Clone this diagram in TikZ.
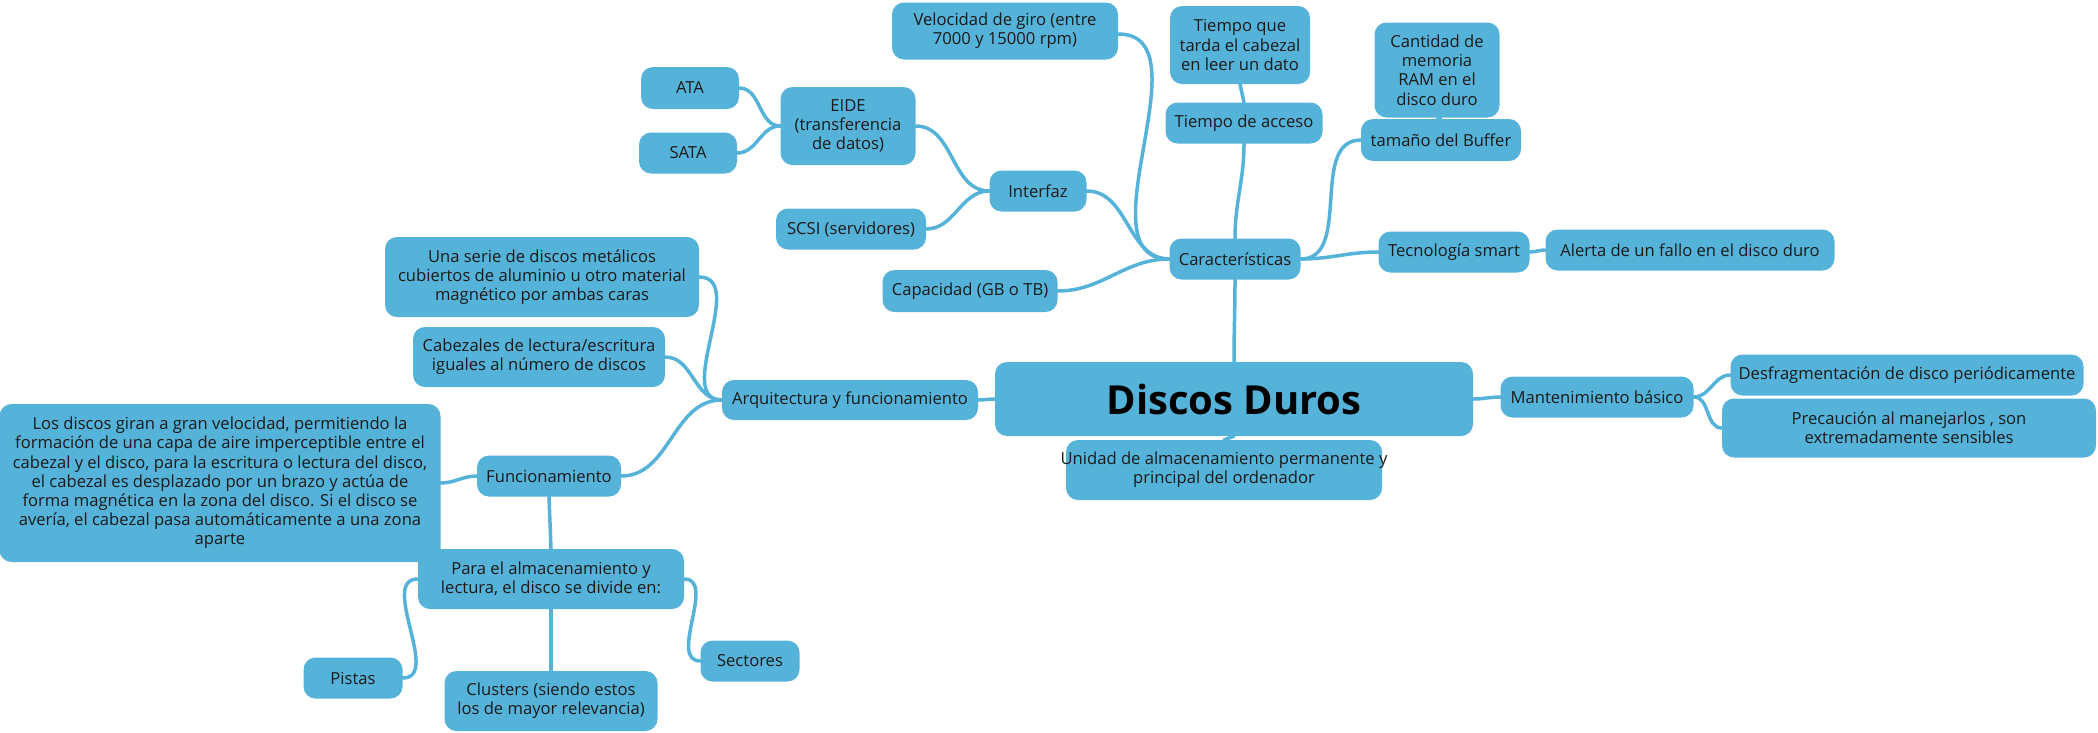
\documentclass[tikz,border=0pt]{standalone}
\usepackage{fontspec}
\setmainfont{Open Sans}
\definecolor{cblue}{HTML}{55B2D9}
\definecolor{txt}{HTML}{1A1A1A}
\pgfdeclarelayer{bg}
\pgfsetlayers{bg,main}
\tikzset{
  box/.style={rounded corners=12pt, fill=cblue, text=txt, align=center, inner sep=0pt,
    font=\fontsize{16.6}{19.2}\selectfont, anchor=center},
  label/.style={text=txt, align=center, inner sep=0pt, font=\fontsize{16.6}{19.2}\selectfont, anchor=center},
  link/.style={draw=cblue, line width=3.5pt, line cap=round}
}
\newcommand{\bx}[5]{\node[box, minimum width=#3, minimum height=#4] (#1) at #2 {#5};}
\begin{document}
\begin{tikzpicture}[x=1pt,y=-1pt]
\useasboundingbox (0,0) rectangle (2098,732);
% nodes
\bx{dd}{(1234,399)}{478pt}{74pt}{\fontsize{40}{44}\selectfont\bfseries\color{black}Discos Duros}
\bx{uni}{(1224,470)}{316pt}{60pt}{}
\node[label] (unitxt) at (uni.center) {Unidad de almacenamiento permanente y\\principal del ordenador};
\bx{car}{(1235,259)}{131pt}{41pt}{Características}
\bx{ta}{(1244,123)}{157pt}{41pt}{Tiempo de acceso}
\bx{tq}{(1240,45)}{140pt}{78pt}{Tiempo que\\tarda el cabezal\\en leer un dato}
\bx{vel}{(1005,31)}{226pt}{57pt}{Velocidad de giro (entre\\7000 y 15000 rpm)}
\bx{int}{(1038,191)}{97pt}{41pt}{Interfaz}
\bx{eide}{(848,126)}{135pt}{78pt}{EIDE\\(transferencia\\de datos)}
\bx{ata}{(690,88)}{98pt}{42pt}{ATA}
\bx{sata}{(688,153)}{98pt}{41pt}{SATA}
\bx{scsi}{(851,229)}{150pt}{41pt}{SCSI (servidores)}
\bx{cap}{(970,291)}{175pt}{42pt}{Capacidad (GB o TB)}
\bx{cant}{(1437,70)}{125pt}{95pt}{Cantidad de\\memoria\\RAM en el\\disco duro}
\bx{buf}{(1441,140)}{160pt}{42pt}{tamaño del Buffer}
\bx{tec}{(1454,252)}{151pt}{41pt}{Tecnología smart}
\bx{ale}{(1690,250)}{289pt}{41pt}{Alerta de un fallo en el disco duro}
\bx{man}{(1597,397)}{193pt}{41pt}{Mantenimiento básico}
\bx{des}{(1907,375)}{353pt}{41pt}{Desfragmentación de disco periódicamente}
\bx{pre}{(1909,428)}{374pt}{59pt}{Precaución al manejarlos , son\\extremadamente sensibles}
\bx{arq}{(850,400)}{256pt}{40pt}{Arquitectura y funcionamiento}
\bx{una}{(542,277)}{314pt}{80pt}{Una serie de discos metálicos\\cubiertos de aluminio u otro material\\magnético por ambas caras}
\bx{cab}{(539,357)}{252pt}{60pt}{Cabezales de lectura/escritura\\iguales al número de discos}
\bx{fun}{(549,476)}{144pt}{41pt}{Funcionamiento}
\bx{los}{(220,483)}{441pt}{158pt}{Los discos giran a gran velocidad, permitiendo la\\formación de una capa de aire imperceptible entre el\\cabezal y el disco, para la escritura o lectura del disco,\\el cabezal es desplazado por un brazo y actúa de\\forma magnética en la zona del disco. Si el disco se\\avería, el cabezal pasa automáticamente a una zona\\aparte}
\bx{para}{(551,579)}{266pt}{60pt}{Para el almacenamiento y\\lectura, el disco se divide en:}
\bx{pis}{(353,678)}{99pt}{41pt}{Pistas}
\bx{clu}{(551,701)}{213pt}{60pt}{Clusters (siendo estos\\los de mayor relevancia)}
\bx{sec}{(750,661)}{99pt}{41pt}{Sectores}
% connectors
\begin{pgfonlayer}{bg}
\draw[link] (dd.north) to[out=90,in=-90] (car.south);
\draw[link] (car.north) to[out=90,in=-90] (ta.south);
\draw[link] (ta.north) -- (tq.south);
\draw[link] (car.west) to[out=180,in=0] ([yshift=-3pt]vel.east);
\draw[link] (car.west) to[out=180,in=0] (int.east);
\draw[link] (car.west) to[out=180,in=0] (cap.east);
\draw[link] (car.east) to[out=0,in=180] (buf.west);
\draw[link] (buf.north) -- (cant.south);
\draw[link] (car.east) to[out=0,in=180] (tec.west);
\draw[link] (tec.east) to[out=0,in=180] (ale.west);
\draw[link] (int.west) to[out=180,in=0] (eide.east);
\draw[link] (int.west) to[out=180,in=0] (scsi.east);
\draw[link] (eide.west) to[out=180,in=0] (ata.east);
\draw[link] (eide.west) to[out=180,in=0] (sata.east);
\draw[link] (dd.west) to[out=180,in=0] (arq.east);
\draw[link] (arq.west) to[out=180,in=0] (una.east);
\draw[link] (arq.west) to[out=180,in=0] (cab.east);
\draw[link] (arq.west) to[out=180,in=0] (fun.east);
\draw[link] (fun.west) to[out=180,in=0] (los.east);
\draw[link] (fun.south) -- (para.north);
\draw[link] (para.west) to[out=180,in=0] (pis.east);
\draw[link] (para.south) -- (clu.north);
\draw[link] (para.east) to[out=0,in=180] (sec.west);
\draw[link] (dd.south) -- (uni.north);
\draw[link] (dd.east) to[out=0,in=180] (man.west);
\draw[link] (man.east) to[out=0,in=180] (des.west);
\draw[link] (man.east) to[out=0,in=180] (pre.west);
\end{pgfonlayer}
\end{tikzpicture}
\end{document}
